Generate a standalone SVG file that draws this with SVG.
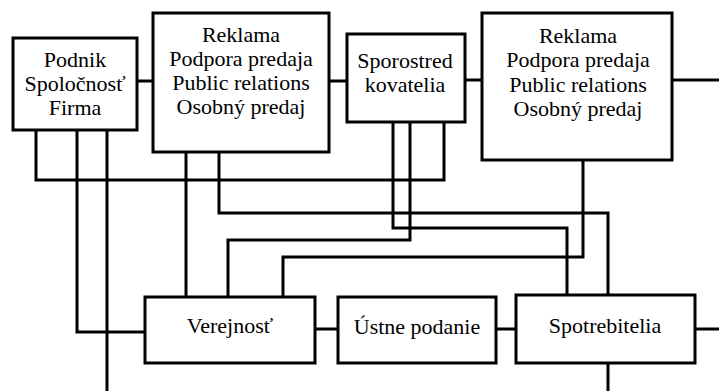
<svg xmlns="http://www.w3.org/2000/svg" width="719" height="391" viewBox="0 0 719 391">
<style>
.box{fill:#fff;stroke:#000;stroke-width:3}
.ln{fill:none;stroke:#000;stroke-width:3}
text{font-family:'Liberation Serif','Times New Roman',serif;font-size:22px;fill:#000;text-anchor:middle}
</style>
<rect width="719" height="391" fill="#fff"/>
<g id="connectors" class="ln">
<path d="M137 81H153"/>
<path d="M329 81H347"/>
<path d="M465 80H482"/>
<path d="M672 80H719"/>
<path d="M315 329H338"/>
<path d="M496 329H516"/>
<path d="M695 329H719"/>
<path d="M608 363V391"/>
<path d="M36 130V180H444V122"/>
<path d="M77 130V332H145"/>
<path d="M107 130V391"/>
<path d="M186 152V297"/>
<path d="M219 152V213H608V295"/>
<path d="M393 122V228H567V295"/>
<path d="M410 122V240H228V297"/>
<path d="M583 160V257H283V297"/>
</g>
<g id="podnik">
<rect class="box" x="13" y="38" width="124" height="92"/>
<text x="75" y="67">Podnik</text>
<text x="75" y="91">Spoločnosť</text>
<text x="75" y="115">Firma</text>
</g>
<g id="reklama1">
<rect class="box" x="153" y="13" width="176" height="139"/>
<text x="241" y="42">Reklama</text>
<text x="241" y="66">Podpora predaja</text>
<text x="241" y="90">Public relations</text>
<text x="241" y="114">Osobný predaj</text>
</g>
<g id="sprostredkovatelia">
<rect class="box" x="347" y="34" width="118" height="88"/>
<text x="405" y="68">Sporostred</text>
<text x="405" y="92">kovatelia</text>
</g>
<g id="reklama2">
<rect class="box" x="482" y="13" width="190" height="147"/>
<text x="578" y="43">Reklama</text>
<text x="578" y="67">Podpora predaja</text>
<text x="578" y="92">Public relations</text>
<text x="578" y="116">Osobný predaj</text>
</g>
<g id="verejnost">
<rect class="box" x="145" y="297" width="170" height="66"/>
<text x="230" y="333">Verejnosť</text>
</g>
<g id="ustne">
<rect class="box" x="338" y="297" width="158" height="66"/>
<text x="417" y="334">Ústne podanie</text>
</g>
<g id="spotrebitelia">
<rect class="box" x="516" y="295" width="179" height="68"/>
<text x="605" y="333">Spotrebitelia</text>
</g>
</svg>
